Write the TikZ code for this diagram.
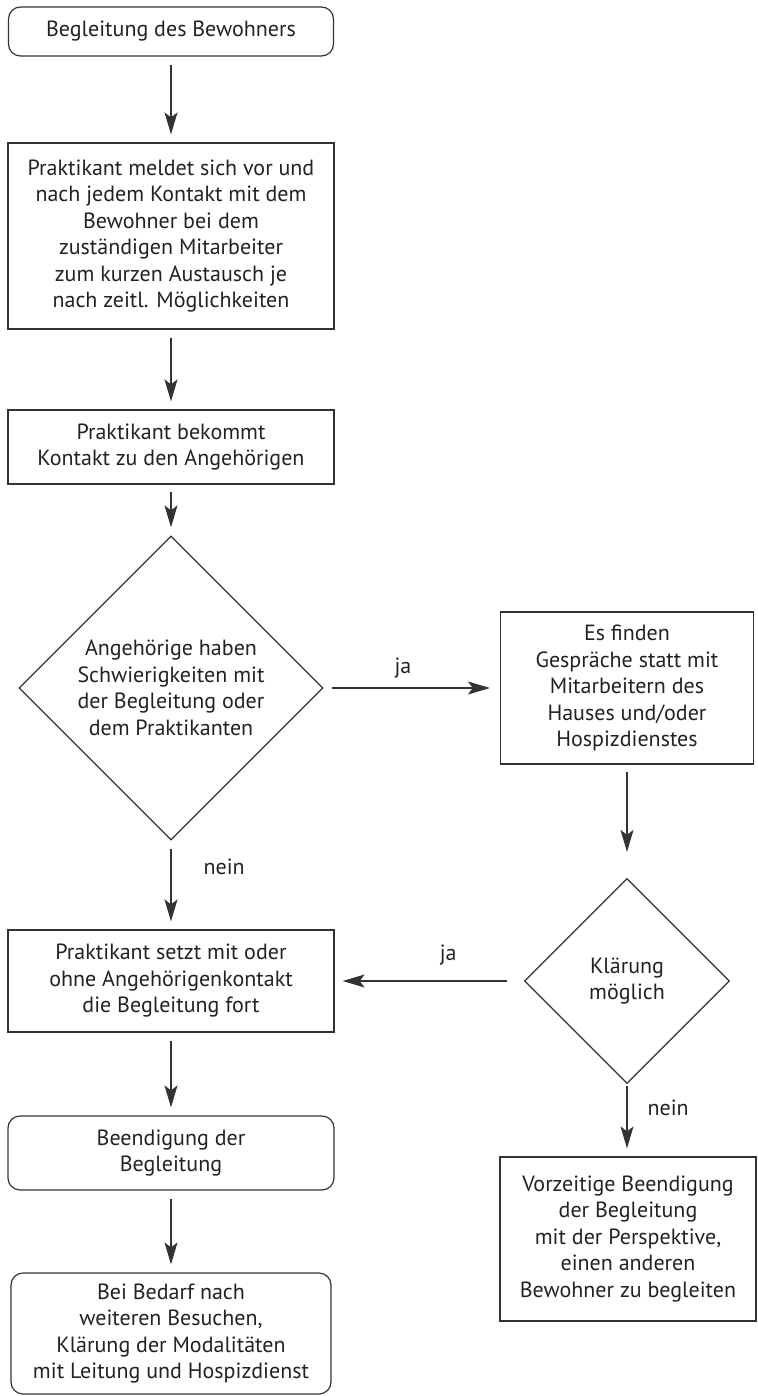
\documentclass[tikz,border=0pt]{standalone}
\usepackage{fontspec}
\setmainfont{PT Sans}
\usetikzlibrary{arrows.meta, shapes.geometric}
\definecolor{linie}{HTML}{333333}
\definecolor{schrift}{HTML}{222222}
\tikzset{
  kastenBasis/.style={
    draw=linie, line width=0.6pt, align=center, text=schrift,
    font=\fontsize{11}{13.25}\selectfont, inner sep=0pt
  },
  kasten/.style={kastenBasis},
  kastenRund/.style={kastenBasis, rounded corners=6pt},
  raute/.style={kastenBasis, diamond, aspect=1},
  pfeil/.style={-{Stealth[length=11pt, width=6.5pt, inset=2.5pt]},
    line width=0.6pt, linie, shorten <=4pt, shorten >=4pt},
  etikett/.style={font=\fontsize{11}{13.25}\selectfont, text=schrift, inner sep=0pt},
}

\begin{document}
\begin{tikzpicture}[x=0.5pt, y=-0.5pt]
    \useasboundingbox (0,0) rectangle (757,1396);

    % linke Spalte
    \node[kastenRund, minimum width=162.5pt, minimum height=24.5pt] (start) at (171,31.5) {Begleitung des Bewohners};
    \node[kasten, minimum width=163pt, minimum height=93pt] (melden) at (171,236)
      {Praktikant meldet sich vor und\\nach jedem Kontakt mit dem\\Bewohner bei dem\\zuständigen Mitarbeiter\\zum kurzen Austausch je\\nach zeitl. Möglichkeiten};
    \node[kasten, minimum width=163pt, minimum height=37pt] (kontakt) at (171,447)
      {Praktikant bekommt\\Kontakt zu den Angehörigen};
    \node[raute, minimum size=152pt] (schwierig) at (171,688)
      {Angehörige haben\\Schwierigkeiten mit\\der Begleitung oder\\dem Praktikanten};
    \node[kasten, minimum width=163pt, minimum height=51pt] (fort) at (171,981)
      {Praktikant setzt mit oder\\ohne Angehörigenkontakt\\die Begleitung fort};
    \node[kastenRund, minimum width=163pt, minimum height=37pt] (ende) at (171,1153)
      {Beendigung der\\Begleitung};
    \node[kastenRund, minimum width=160pt, minimum height=60.5pt] (bedarf) at (171,1333.5)
      {Bei Bedarf nach\\weiteren Besuchen,\\Klärung der Modalitäten\\mit Leitung und Hospizdienst};

    % rechte Spalte
    \node[kasten, minimum width=126.5pt, minimum height=76pt] (gespraech) at (627,688)
      {Es finden\\Gespräche statt mit\\Mitarbeitern des\\Hauses und/oder\\Hospizdienstes};
    \node[raute, minimum size=102.5pt] (klaerung) at (627,981) {Klärung\\möglich};
    \node[kasten, minimum width=128pt, minimum height=82pt] (vorzeitig) at (628,1239)
      {Vorzeitige Beendigung\\der Begleitung\\mit der Perspektive,\\einen anderen\\Bewohner zu begleiten};

    \draw[pfeil] (start) -- (melden);
    \draw[pfeil] (melden) -- (kontakt);
    \draw[pfeil, shorten <=3.5pt] (kontakt) -- (schwierig);
    \draw[pfeil] (schwierig) -- node[etikett, right=16pt, pos=0.3]{nein} (fort);
    \draw[pfeil] (fort) -- (ende);
    \draw[pfeil] (ende) -- (bedarf);
    \draw[pfeil, shorten >=5pt] (schwierig) -- node[etikett, above=4.5pt, pos=0.45]{ja} (gespraech);
    \draw[pfeil, shorten <=3.5pt, shorten >=13pt] (gespraech) -- (klaerung);
    \draw[pfeil, shorten <=8.5pt] (klaerung) -- node[etikett, above=7.5pt, pos=0.4]{ja} (fort);
    \draw[pfeil, shorten <=1pt] (klaerung) -- node[etikett, right=10pt, pos=0.33]{nein} (klaerung.south |- vorzeitig.north);
  \end{tikzpicture}
\end{document}
